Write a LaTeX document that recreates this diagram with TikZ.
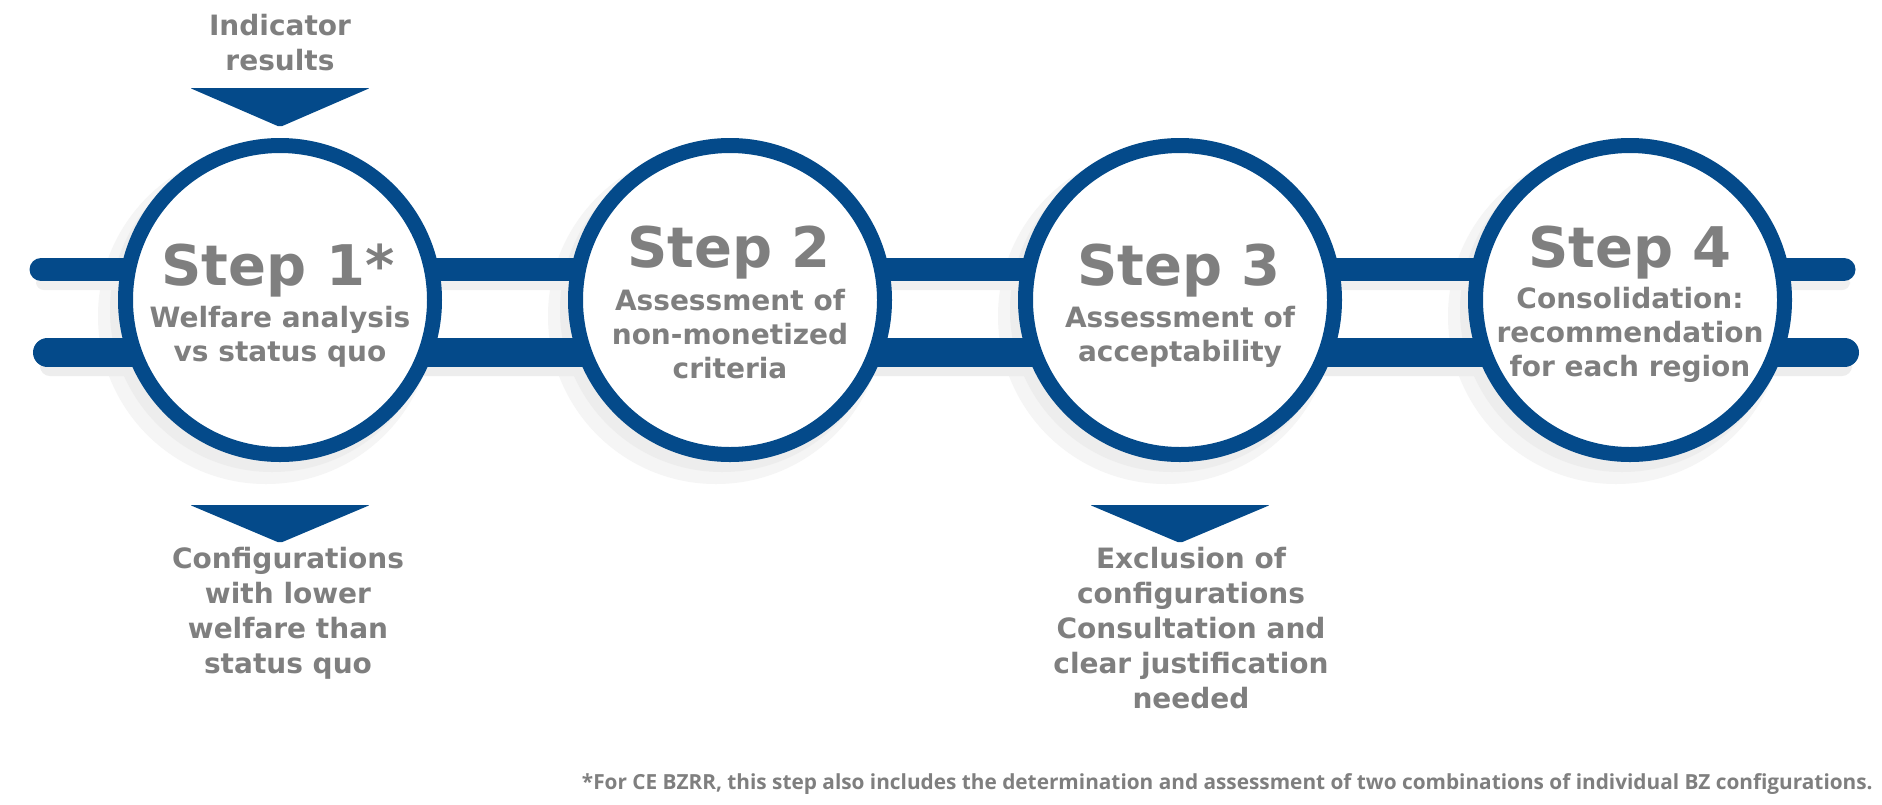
\documentclass[tikz,border=0pt]{standalone}
\usepackage{fontspec}
\setmainfont{DejaVu Sans}
\newfontfamily\fnfont{Open Sans}
\definecolor{stepblue}{RGB}{4,74,138}
\definecolor{txtgray}{RGB}{127,127,127}
\newcommand\stk[1]{\begin{tabular}[t]{@{}c@{}}#1\end{tabular}}
\tikzset{
  stepcircle/.style={circle, draw=stepblue, line width=15pt, fill=white, minimum size=309pt, inner sep=0pt},
  steptitle/.style={text=txtgray, font=\fontsize{56}{60}\selectfont\bfseries, inner sep=0pt, anchor=base},
  steptext/.style={text=txtgray, font=\fontsize{28}{34}\selectfont\bfseries, inner sep=0pt, anchor=base},
  outtext/.style={text=txtgray, font=\fontsize{28}{35}\selectfont\bfseries, inner sep=0pt, anchor=base},
  downarrow/.style={fill=stepblue, rounded corners=2pt},
  shadowA/.style={fill=black!4},
  shadowB/.style={fill=black!7},
}
\begin{document}
\begin{tikzpicture}[x=1pt,y=-1pt]
\useasboundingbox (0,0) rectangle (1882,804);
\fill[white] (0,0) rectangle (1882,804);

% circle shadows
\foreach \cx in {280,730,1180,1630}{
  \fill[shadowA] (\cx-14,316) circle (168);
  \fill[shadowB] (\cx-8,310) circle (162);
}

% bar shadows
\fill[black!6, rounded corners=8pt] (36,276) rectangle (1850,290);
\fill[black!7, rounded corners=10pt] (40,358) rectangle (1852,376);

% bars
\coordinate (uL) at (41,269.5);
\coordinate (uR) at (1844,269.5);
\coordinate (lL) at (47.5,352.5);
\coordinate (lR) at (1844.5,352.5);
\draw[stepblue, line width=23pt, line cap=round] (uL) -- (uR);
\draw[stepblue, line width=29pt, line cap=round] (lL) -- (lR);

% circles
\node[stepcircle] (c1) at (280,300) {};
\node[stepcircle] (c2) at (730,300) {};
\node[stepcircle] (c3) at (1180,300) {};
\node[stepcircle] (c4) at (1630,300) {};

% titles
\node[steptitle] (t1) at (278,285) {Step 1*};
\node[steptitle] (t2) at (729,267) {Step 2};
\node[steptitle] (t3) at (1179,285) {Step 3};
\node[steptitle] (t4) at (1630,267) {Step 4};

% step texts
\node[steptext] (s1) at (280,327) {\stk{Welfare analysis\\vs status quo}};
\node[steptext] (s2) at (730,310) {\stk{Assessment of\\non-monetized\\criteria}};
\node[steptext] (s3) at (1180,327) {\stk{Assessment of\\acceptability}};
\node[steptext] (s4) at (1630,308) {\stk{Consolidation:\\recommendation\\for each region}};

% arrows
\fill[downarrow] (190,88) -- (370,88) -- (280,127) -- cycle;
\fill[downarrow] (190,505) -- (370,505) -- (280,543) -- cycle;
\fill[downarrow] (1090,505) -- (1270,505) -- (1180,543) -- cycle;

% outside texts
\node[outtext] (in1) at (280,35) {\stk{Indicator\\results}};
\node[outtext] (out1) at (288,568) {\stk{Configurations\\with lower\\welfare than\\status quo}};
\node[outtext] (out3) at (1191,568) {\stk{Exclusion of\\configurations\\Consultation and\\clear justification\\needed}};

% footnote
\node[anchor=base east, inner sep=0pt, text=txtgray, font=\fnfont\bfseries\fontsize{20.8}{24}\selectfont] (fn) at (1873,789)
  {*For CE BZRR, this step also includes the determination and assessment of two combinations of individual BZ configurations.};
\end{tikzpicture}
\end{document}
